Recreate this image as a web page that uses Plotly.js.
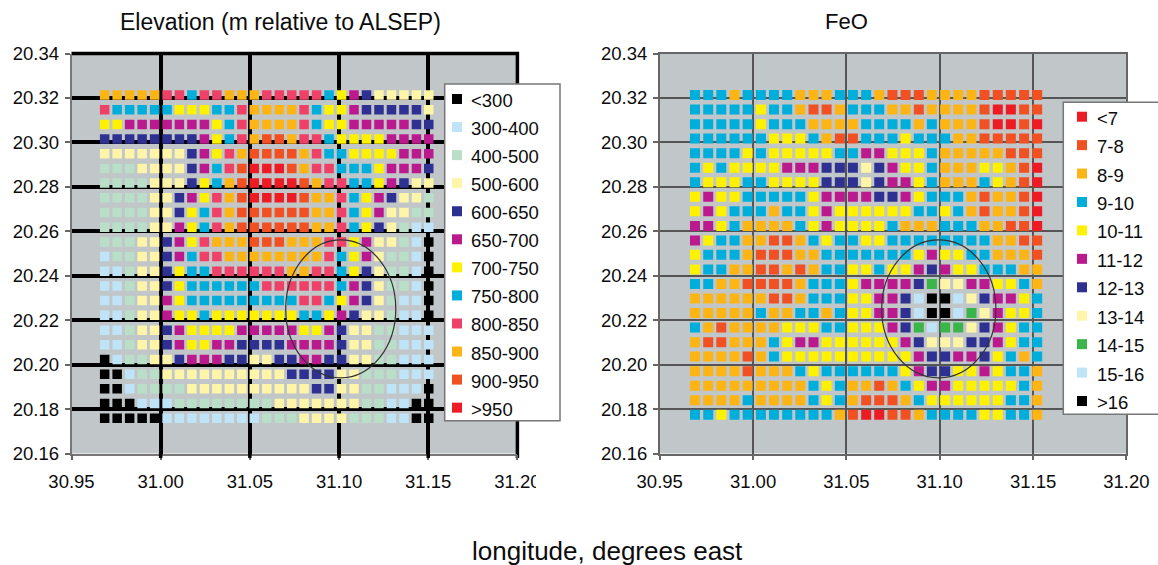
<!DOCTYPE html>
<html><head><meta charset="utf-8">
<script src="https://cdn.plot.ly/plotly-3.0.1.min.js"></script>
<style>html,body{margin:0;padding:0;background:#fff;overflow:hidden}#c{width:1158px;height:565px}</style>
</head><body><div id="c"></div>
<script>
const elevLabels=["<300","300-400","400-500","500-600","600-650","650-700","700-750","750-800","800-850","850-900","900-950",">950"];
const elevColors=["#000000","#bfe4f8","#b9dfc8","#fff5a8","#2e3191","#bb1a8f","#fff200","#00aedb","#ef4068","#fdb515","#f15023","#ed1c24"];
const feoLabels=["<7","7-8","8-9","9-10","10-11","11-12","12-13","13-14","14-15","15-16",">16"];
const feoColors=["#ed1c24","#f15023","#fdb515","#00aedb","#fff200","#bb1a8f","#2e3191","#fff5a8","#39b54a","#bfe4f8","#000000"];
const elevLons=[30.9686,30.9756,30.9826,30.9896,30.9966,31.0036,31.0105,31.0175,31.0245,31.0315,31.0385,31.0455,31.0525,31.0595,31.0665,31.0735,31.0804,31.0874,31.0944,31.1014,31.1084,31.1154,31.1224,31.1294,31.1364,31.1434,31.1503];
const elevLats=[20.3213,20.3147,20.3081,20.3015,20.2949,20.2883,20.2817,20.2751,20.2685,20.2618,20.2552,20.2486,20.2420,20.2354,20.2288,20.2222,20.2155,20.2089,20.2023,20.1957,20.1891,20.1825,20.1759];
const feoLons=[30.9689,30.9760,30.9830,30.9901,30.9971,31.0042,31.0112,31.0183,31.0253,31.0324,31.0394,31.0465,31.0535,31.0606,31.0676,31.0747,31.0817,31.0888,31.0958,31.1029,31.1099,31.1170,31.1240,31.1311,31.1381,31.1452,31.1522];
const feoLats=[20.3213,20.3148,20.3082,20.3017,20.2951,20.2886,20.2821,20.2755,20.2690,20.2624,20.2559,20.2494,20.2428,20.2363,20.2297,20.2232,20.2167,20.2101,20.2036,20.1970,20.1905,20.1840,20.1774];
// each character is the index (hex) of the legend class of one cell
const elevRows=[
"9999988788999"+"88888765433333",
"8777776667789"+"99987665444443",
"6655555556789"+"99987665555544",
"4444444456789"+"aa988766665555",
"333333345689a"+"aaa98776666555",
"22233334578ab"+"bba98877765554",
"22223334679ab"+"bbba9887765433",
"22223345689ab"+"bbba9987654332",
"22223346789aa"+"aaaa9987653322",
"22223356789aa"+"aaaa9987643211",
"222334568999a"+"aa999886533210",
"1223345788999"+"99999876532210",
"1123346778888"+"88998876432210",
"1123346777777"+"88888875432210",
"1123356777777"+"77788765432110",
"1123356676666"+"66677654332110",
"1123345666655"+"55566543322111",
"1123345665544"+"44555543322111",
"0122334555443"+"34455443322111",
"0012233333333"+"33444433222111",
"0012222333333"+"33334433221110",
"0001112222222"+"23333333221100",
"0000011111111"+"22233332221100"];
const feoRows=[
"33323333222333"+"2111222211111",
"33333433211233"+"3221222210011",
"33333433322223"+"3332322210010",
"33333344432113"+"3343332211111",
"33334344444335"+"5444322222111",
"34344445556667"+"6544322244210",
"34443344446667"+"6554322234210",
"45443333345555"+"6654333212210",
"45433323345444"+"4443343212210",
"55432222345444"+"4322233322110",
"54332211234334"+"4333333332211",
"43332111223333"+"3334544332221",
"43322112123344"+"3445654433322",
"33221111233345"+"5556877554432",
"22222211233344"+"5569aa9765543",
"22222322332344"+"5569aa9875443",
"32122224443344"+"4568988765433",
"21122234554444"+"4456777665433",
"22221234444444"+"4445665564323",
"22221222343333"+"3345664454332",
"22222222234322"+"1234554444432",
"22223222234321"+"1123444444332",
"33433333333210"+"0112333344332"];
const xTicks=[30.95,31.00,31.05,31.10,31.15,31.20];
const yTicks=[20.16,20.18,20.20,20.22,20.24,20.26,20.28,20.30,20.32,20.34];

const W=1158,H=565;
const px=x=>x/W, py=y=>1-y/H;
const FONT='"Liberation Sans", Arial, sans-serif';
const TXT='#0c0c0c';

function traces(rows,lons,lats,labels,colors,xa,ya,size){
  return labels.map((name,k)=>{
    const x=[],y=[];
    rows.forEach((r,i)=>{[...r].forEach((c,j)=>{ if(parseInt(c,16)===k){x.push(lons[j]);y.push(lats[i]);}});});
    return {type:'scatter',mode:'markers',name,x,y,xaxis:xa,yaxis:ya,showlegend:false,hoverinfo:'x+y+name',
      marker:{symbol:'square',size,color:colors[k],line:{width:0}}};
  });
}
const data=[...traces(elevRows,elevLons,elevLats,elevLabels,elevColors,'x','y',9.5),
            ...traces(feoRows,feoLons,feoLats,feoLabels,feoColors,'x2','y2',10)];

const shapes=[],annotations=[];
function legend(labels,colors,box,sx,sy0,dy,tx){
  shapes.push({type:'rect',xref:'paper',yref:'paper',x0:px(box[0]),x1:px(box[1]),y0:py(box[2]),y1:py(box[3]),fillcolor:'#fff',line:{color:'#777',width:1.5},layer:'above'});
  labels.forEach((t,i)=>{
    const cy=sy0+i*dy;
    shapes.push({type:'rect',xref:'paper',yref:'paper',x0:px(sx-5),x1:px(sx+5),y0:py(cy-5),y1:py(cy+5),fillcolor:colors[i],line:{width:0},layer:'above'});
    annotations.push({xref:'paper',yref:'paper',x:px(tx),y:py(cy+1.5),xanchor:'left',yanchor:'middle',showarrow:false,text:t.replace('<','&lt;'),font:{family:FONT,size:18.5,color:TXT},borderpad:0});
  });
}
// Left panel: heavy top and right frame, and heavy grid stubs below the plot
shapes.push({type:'line',xref:'paper',yref:'paper',x0:px(71.5),x1:px(519),y0:py(53.5),y1:py(53.5),line:{color:'#000',width:3.5},layer:'below'});
shapes.push({type:'line',xref:'paper',yref:'paper',x0:px(517.4),x1:px(517.4),y0:py(52),y1:py(458),line:{color:'#000',width:3.5},layer:'below'});
xTicks.slice(1,5).forEach(v=>{
  const xp=71.5+(v-30.95)/0.25*445.9;
  shapes.push({type:'line',xref:'paper',yref:'paper',x0:px(xp),x1:px(xp),y0:py(452),y1:py(458),line:{color:'#000',width:3.5},layer:'above'});
});
// Site ellipses
shapes.push({type:'circle',xref:'x',yref:'y',x0:31.0701,x1:31.1318,y0:20.194,y1:20.2561,line:{color:'#333',width:1.2},layer:'above'});
shapes.push({type:'circle',xref:'x2',yref:'y2',x0:31.0689,x1:31.1301,y0:20.194,y1:20.2561,line:{color:'#333',width:1.2},layer:'above'});
// The reference crops the last tick label of the left panel
shapes.push({type:'rect',xref:'paper',yref:'paper',x0:px(536),x1:px(560),y0:py(464),y1:py(495),fillcolor:'#fff',line:{width:0},layer:'above'});
legend(elevLabels,elevColors,[444.7,560,84,420.7],457,99,28.06,470);
legend(feoLabels,feoColors,[1063.3,1170,102.3,414.3],1082,116.7,28.43,1095.5);
annotations.push({xref:'paper',yref:'paper',x:px(280.5),y:py(22),xanchor:'center',yanchor:'middle',showarrow:false,text:'Elevation (m relative to ALSEP)',font:{family:FONT,size:23,color:TXT}});
annotations.push({xref:'paper',yref:'paper',x:px(846.5),y:py(22),xanchor:'center',yanchor:'middle',showarrow:false,text:'FeO',font:{family:FONT,size:22,color:TXT}});
annotations.push({xref:'paper',yref:'paper',x:px(607.5),y:py(551),xanchor:'center',yanchor:'middle',showarrow:false,text:'longitude, degrees east',font:{family:FONT,size:26,color:TXT}});

function xax(d,anchor,grid,gw,lc){return {domain:d,anchor,range:[30.95,31.20],tickmode:'array',tickvals:xTicks,ticktext:xTicks.map(v=>v.toFixed(2)),
  showgrid:true,gridcolor:grid,gridwidth:gw,zeroline:false,showline:true,linecolor:lc,linewidth:1.5,ticks:'outside',ticklen:5,tickcolor:'#666',tickwidth:1.5,
  tickfont:{family:FONT,size:18.5,color:TXT},fixedrange:true,ticklabelstandoff:6};}
function yax(d,anchor,grid,gw,lc){return {domain:d,anchor,range:[20.16,20.34],tickmode:'array',tickvals:yTicks,ticktext:yTicks.map(v=>v.toFixed(2)),
  showgrid:true,gridcolor:grid,gridwidth:gw,zeroline:false,showline:true,linecolor:lc,linewidth:1.5,ticks:'outside',ticklen:5,tickcolor:'#666',tickwidth:1.5,
  tickfont:{family:FONT,size:18.5,color:TXT},fixedrange:true,ticklabelstandoff:2};}
const yDom=[py(453.5),py(53.5)];
const layout={width:W,height:H,margin:{l:0,r:0,t:0,b:0,pad:0},paper_bgcolor:'#fff',plot_bgcolor:'#c1c6c9',showlegend:false,hovermode:'closest',
  xaxis:xax([px(71.5),px(517.4)],'y','#000',3.5,'#777'),
  yaxis:yax(yDom,'x','#000',3.5,'#777'),
  xaxis2:Object.assign(xax([px(659.7),px(1126.4)],'y2','#555',1.5,'#666'),{mirror:true}),
  yaxis2:Object.assign(yax(yDom,'x2','#555',1.5,'#666'),{mirror:true}),
  shapes,annotations};
Plotly.newPlot('c',data,layout,{displayModeBar:false,staticPlot:false,responsive:false});
</script></body></html>
